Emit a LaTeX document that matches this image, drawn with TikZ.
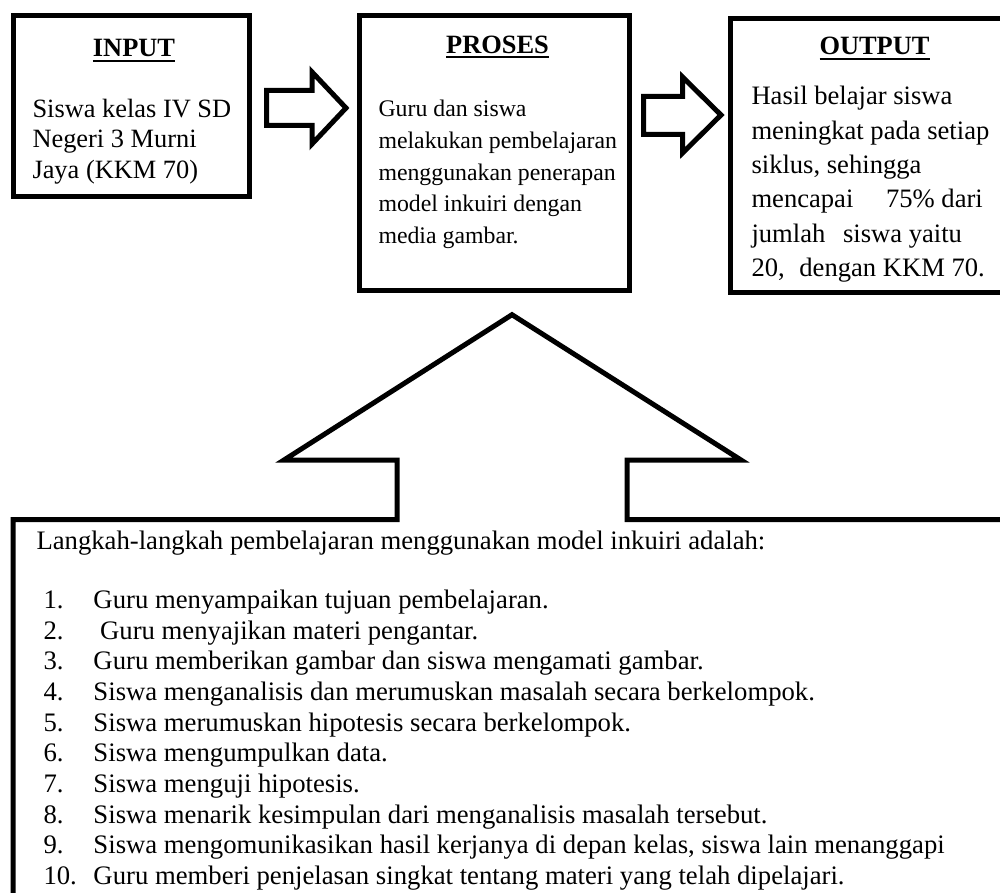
\documentclass[tikz,border=0pt]{standalone}
\usepackage{fontspec}
\setmainfont{Liberation Serif}
\usetikzlibrary{positioning}

\newcommand{\garisbawah}[1]{\sbox0{#1}\rlap{\rule[-5pt]{\wd0}{2pt}}\usebox0}

\begin{document}
\begin{tikzpicture}[
    x = 1pt, y = -1pt, % one unit = one pixel, y runs down
    line width = 5pt, % thick outlines everywhere
    kotak/.style = {draw, rectangle, inner sep = 0pt},
    blok/.style = {draw, line join = miter},
    judul/.style = {inner sep = 0pt, anchor = base,
      font = \fontsize{26.4}{30}\selectfont\bfseries},
    isi/.style = {inner sep = 0pt, anchor = north west}
  ]
  \useasboundingbox (0,0) rectangle (1000,893);

  % three boxes on top
  \node[kotak, minimum width = 236pt, minimum height = 181pt] (input) at (131.5,106) {};
  \node[kotak, minimum width = 270pt, minimum height = 275pt] (proses) at (494.5,153) {};
  \node[kotak, minimum width = 282pt, minimum height = 274pt] (output) at (871.5,155.5) {};

  % titles
  \node[judul] (jinput) at (134,56.7) {\garisbawah{INPUT}};
  \node[judul] (jproses) at (497.5,53.5) {\garisbawah{PROSES}};
  \node[judul] (joutput) at (874.5,55) {\garisbawah{OUTPUT}};

  % text in the boxes
  \node[isi, font = \fontsize{26.4}{30.3}\selectfont] (tinput) at (30,93.8)
    {\begin{tabular}{@{}l@{}}
      Siswa kelas IV SD\\
      Negeri 3 Murni\\
      Jaya (KKM 70)
    \end{tabular}};
  \node[isi, font = \fontsize{23.8}{31.6}\selectfont] (tproses) at (376,92.2)
    {\begin{tabular}{@{}l@{}}
      Guru dan siswa\\
      melakukan pembelajaran\\
      menggunakan penerapan\\
      model inkuiri dengan\\
      media gambar.
    \end{tabular}};
  \node[isi, font = \fontsize{26.6}{34.4}\selectfont] (toutput) at (749,78.2)
    {\begin{tabular}{@{}l@{}}
      Hasil belajar siswa\\
      meningkat pada setiap\\
      siklus, sehingga\\
      mencapai\hspace{26pt} 75\% dari\\
      jumlah\hspace{11pt} siswa yaitu\\
      20,\hspace{8pt} dengan KKM 70.
    \end{tabular}};

  % block arrows between the boxes
  \draw[blok] (266.5,90.5) -- (312,90.5) -- (312,72) -- (346,108)
    -- (312,144) -- (312,125.5) -- (266.5,125.5) -- cycle;
  \draw[blok] (643.5,96.5) -- (682.5,96.5) -- (682.5,77) -- (721,115)
    -- (682.5,153) -- (682.5,134.5) -- (643.5,134.5) -- cycle;

  % bottom box, opening into the big arrow
  \draw[blok] (627,519.5) -- (1012,519.5) -- (1012,900) -- (13,900)
    -- (13,519.5) -- (397,519.5) -- (397,460) -- (284,460) -- (512,314.7)
    -- (741,460) -- (627,460) -- cycle;

  \node[inner sep = 0pt, anchor = base west, font = \fontsize{26.7}{30.67}\selectfont]
    (langkah) at (34,549) {Langkah-langkah pembelajaran menggunakan model inkuiri adalah:};
  \node[isi, font = \fontsize{26.7}{30.67}\selectfont] (daftar) at (41,584.5)
    {\begin{tabular}{@{}p{50pt}@{}l@{}}
      1. & Guru menyampaikan tujuan pembelajaran.\\
      2. & \ Guru menyajikan materi pengantar.\\
      3. & Guru memberikan gambar dan siswa mengamati gambar.\\
      4. & Siswa menganalisis dan merumuskan masalah secara berkelompok.\\
      5. & Siswa merumuskan hipotesis secara berkelompok.\\
      6. & Siswa mengumpulkan data.\\
      7. & Siswa menguji hipotesis.\\
      8. & Siswa menarik kesimpulan dari menganalisis masalah tersebut.\\
      9. & Siswa mengomunikasikan hasil kerjanya di depan kelas, siswa lain menanggapi\\
      10. & Guru memberi penjelasan singkat tentang materi yang telah dipelajari.
    \end{tabular}};
\end{tikzpicture}
\end{document}
